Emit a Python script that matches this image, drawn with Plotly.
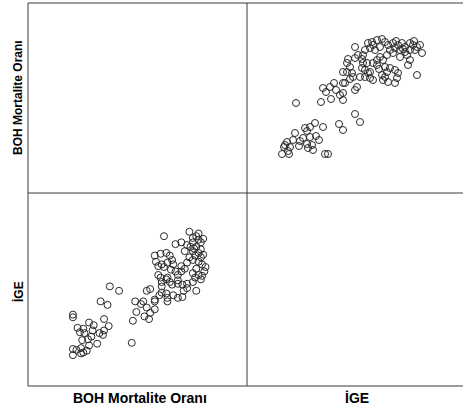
import plotly.graph_objects as go

# Data (top-right panel: x = İGE, y = BOH Mortalite Oranı)
ige = [
    0.592, 0.642, 0.662, 0.686, 0.680, 0.710, 0.720, 0.678, 0.686, 0.630,
    0.620, 0.610, 0.646, 0.590, 0.606, 0.620, 0.586, 0.574, 0.570, 0.568,
    0.580, 0.598, 0.614, 0.624, 0.638, 0.616, 0.626, 0.564, 0.578, 0.650,
    0.656, 0.614,
    0.646, 0.652, 0.660, 0.668, 0.672, 0.686,
    0.710, 0.696, 0.694, 0.700, 0.710, 0.716, 0.726, 0.730, 0.736, 0.744,
    0.746, 0.754, 0.764, 0.770, 0.740, 0.750, 0.760, 0.776, 0.786, 0.796,
    0.804, 0.810, 0.820, 0.826, 0.834, 0.840, 0.830, 0.820, 0.810, 0.800,
    0.790, 0.780, 0.844, 0.814, 0.800, 0.786, 0.820, 0.816, 0.774, 0.766,
    0.760, 0.754, 0.746, 0.754, 0.734, 0.726, 0.724, 0.730, 0.740, 0.686,
    0.694, 0.704, 0.706, 0.720, 0.730, 0.736, 0.740, 0.746, 0.764, 0.770,
    0.774, 0.780, 0.790, 0.796, 0.794, 0.790, 0.776, 0.766, 0.834, 0.690,
    0.710, 0.714, 0.686,
    0.600, 0.576, 0.632, 0.700, 0.758, 0.806, 0.828, 0.792, 0.770, 0.724,
]
boh = [
    50.0, 50.5, 52.0, 51.5, 54.0, 44.5, 40.5, 39.5, 36.5, 40.0,
    38.0, 37.5, 38.0, 35.0, 32.5, 33.0, 31.5, 30.5, 29.0, 28.0,
    28.0, 28.5, 29.5, 29.0, 31.5, 27.5, 26.5, 24.5, 24.5, 24.5,
    24.5, 36.0,
    57.5, 55.5, 58.0, 60.0, 56.5, 60.0,
    78.0, 72.0, 70.0, 68.0, 72.5, 74.0, 74.0, 76.5, 80.0, 80.5,
    79.0, 81.5, 82.0, 80.5, 77.5, 76.5, 78.0, 79.0, 80.0, 79.0,
    80.0, 78.0, 80.0, 79.0, 78.0, 79.0, 76.5, 76.5, 75.5, 76.5,
    77.5, 76.5, 75.0, 74.0, 73.0, 75.0, 71.5, 69.0, 74.0, 71.5,
    73.0, 71.5, 70.0, 69.0, 70.0, 70.0, 67.5, 66.5, 65.5, 65.5,
    65.5, 65.0, 63.0, 63.0, 63.0, 65.0, 62.5, 61.5, 64.0, 63.0,
    65.5, 67.5, 66.5, 65.0, 62.5, 60.0, 60.5, 61.5, 64.0, 60.0,
    56.5, 58.0, 55.0,
    31.0, 26.0, 33.5, 62.0, 67.0, 77.0, 81.0, 81.0, 68.0, 72.0,
]

var_boh = "BOH Mortalite Oranı"
var_ige = "İGE"
ige_range = [0.494, 0.932]
boh_range = [5, 100]

# figure slightly wider than the window so the right frame edge is cut off
W, H = 466, 409
ml, mr, mt, mb = 28, 0, 3, 23
pw = W - ml - mr
ph = H - mt - mb
xsplit = 219 / pw
ysplit = 193 / ph

marker = dict(symbol="circle-open", size=7, color="#2a2a2a", line=dict(width=1))

fig = go.Figure()
# bottom-left: x = BOH, y = İGE
fig.add_trace(go.Scatter(x=boh, y=ige, mode="markers", marker=marker,
                         xaxis="x", yaxis="y", showlegend=False, hoverinfo="skip"))
# top-right: x = İGE, y = BOH
fig.add_trace(go.Scatter(x=ige, y=boh, mode="markers", marker=marker,
                         xaxis="x2", yaxis="y2", showlegend=False, hoverinfo="skip"))

ax = dict(showgrid=False, zeroline=False, showticklabels=False, ticks="",
          showline=False, fixedrange=True)
fig.update_layout(
    width=W, height=H,
    margin=dict(l=ml, r=mr, t=mt, b=mb),
    paper_bgcolor="white", plot_bgcolor="white",
    xaxis=dict(ax, domain=[0, xsplit], range=boh_range, anchor="y"),
    yaxis=dict(ax, domain=[0, ysplit], range=ige_range, anchor="x"),
    xaxis2=dict(ax, domain=[xsplit, 1], range=ige_range, anchor="y2"),
    yaxis2=dict(ax, domain=[ysplit, 1], range=boh_range, anchor="x2"),
)

lc = dict(color="#3a3a3a", width=1)
for x0, y0, x1, y1 in [(0, 1, 1, 1), (0, 0, 1, 0), (0, 0, 0, 1),
                       (xsplit, 0, xsplit, 1), (0, ysplit, 1, ysplit)]:
    fig.add_shape(type="line", xref="paper", yref="paper",
                  x0=x0, y0=y0, x1=x1, y1=y1, line=lc)

fam = "Liberation Sans, Arial, sans-serif"
font_side = dict(family=fam, size=12, color="black")
font_bot = dict(family=fam, size=14, color="black")

def px_x(p):
    return (p - ml) / pw

def px_y(p):
    return (H - mb - p) / ph

common = dict(xref="paper", yref="paper", showarrow=False,
              xanchor="center", yanchor="middle")
fig.add_annotation(text="<b>" + var_boh + "</b>", x=px_x(18), y=px_y(98),
                   textangle=-90, font=font_side, **common)
fig.add_annotation(text="<b>" + var_ige + "</b>", x=px_x(18), y=px_y(292),
                   textangle=-90, font=font_side, **common)
fig.add_annotation(text="<b>" + var_boh + "</b>", x=px_x(139.5), y=px_y(398),
                   font=font_bot, **common)
fig.add_annotation(text="<b>" + var_ige + "</b>", x=px_x(357), y=px_y(398),
                   font=font_bot, **common)

fig.write_html("out.html", config={"displayModeBar": False},
               post_script="document.body.style.margin='0';document.body.style.padding='0';document.body.style.overflow='hidden';")
